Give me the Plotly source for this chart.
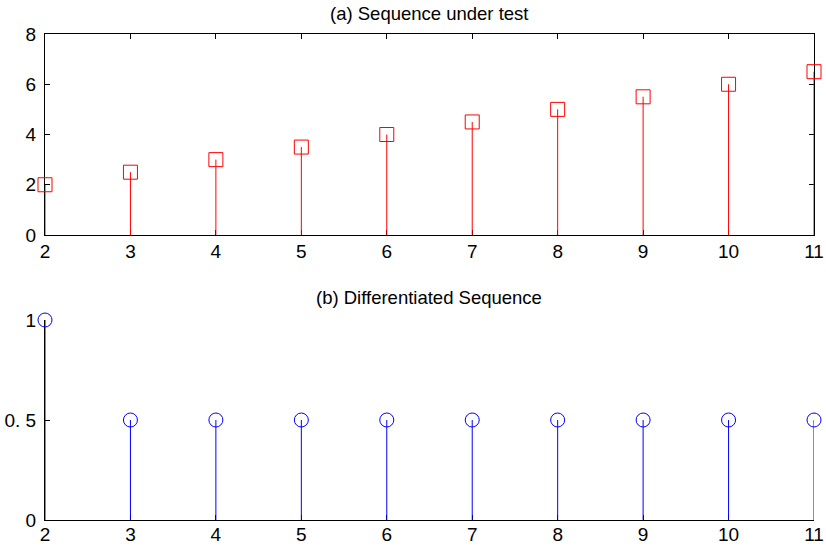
import plotly.graph_objects as go
from plotly.subplots import make_subplots

n_values = [2, 3, 4, 5, 6, 7, 8, 9, 10, 11]
seq_values = [2, 2.5, 3, 3.5, 4, 4.5, 5, 5.5, 6, 6.5]
diff_values = [1, 0.5, 0.5, 0.5, 0.5, 0.5, 0.5, 0.5, 0.5, 0.5]
top_yticks = [0, 2, 4, 6, 8]
bot_yticks = [0, 0.5, 1]
bot_yticktext = ["0", "0. 5", "1"]


def stems(xs, ys):
    sx, sy = [], []
    for x, y in zip(xs, ys):
        sx += [x, x, None]
        sy += [0, y, None]
    return sx, sy


fig = make_subplots(rows=2, cols=1)

sx, sy = stems(n_values, seq_values)
fig.add_trace(go.Scatter(x=sx, y=sy, mode="lines", line=dict(color="#ff0000", width=1),
                         hoverinfo="skip", cliponaxis=False), row=1, col=1)
fig.add_trace(go.Scatter(x=n_values, y=seq_values, mode="markers",
                         marker=dict(symbol="square-open", size=14, color="#ff0000",
                                     line=dict(width=1, color="#ff0000")),
                         cliponaxis=False), row=1, col=1)

sx, sy = stems(n_values, diff_values)
fig.add_trace(go.Scatter(x=sx, y=sy, mode="lines", line=dict(color="#0000ff", width=1),
                         hoverinfo="skip", cliponaxis=False), row=2, col=1)
fig.add_trace(go.Scatter(x=n_values, y=diff_values, mode="markers",
                         marker=dict(symbol="circle-open", size=14, color="#0000ff",
                                     line=dict(width=1, color="#0000ff")),
                         cliponaxis=False), row=2, col=1)

font = dict(family="Liberation Sans, Arial, sans-serif", size=19, color="#000000")

axis_common = dict(showgrid=False, zeroline=False, showline=True, linecolor="#000000",
                   linewidth=1, ticks="inside", ticklen=5, tickcolor="#000000",
                   tickfont=font, automargin=False, layer="below traces")

fig.update_xaxes(range=[2, 11], tickvals=n_values, domain=[0, 1], **axis_common)
fig.update_yaxes(ticklabelstandoff=4, **axis_common)
fig.update_xaxes(mirror="ticks", ticklabelstandoff=-1, row=1, col=1)
fig.update_xaxes(ticklabelstandoff=-3, row=2, col=1)
fig.update_yaxes(range=[0, 8], tickvals=top_yticks, mirror="ticks", domain=[0.5864, 1],
                 row=1, col=1)
fig.update_yaxes(range=[0, 1], tickvals=bot_yticks, ticktext=bot_yticktext,
                 domain=[0, 0.4115], row=2, col=1)

plot_h = 546 - 34 - 26
plot_w = 826 - 45 - 12
title_font = dict(family="Liberation Sans, Arial, sans-serif", size=18.5, color="#000000")

fig.update_layout(
    width=826, height=546,
    margin=dict(l=45, r=12, t=34, b=26),
    paper_bgcolor="#ffffff", plot_bgcolor="#ffffff",
    showlegend=False,
    font=font,
    annotations=[
        dict(text="(a) Sequence under test", x=(429 - 45) / plot_w, y=(520 - 13) / plot_h,
             xref="paper", yref="paper", xanchor="center", yanchor="middle",
             showarrow=False, font=title_font),
        dict(text="(b) Differentiated Sequence", x=(429 - 45) / plot_w, y=(520 - 297) / plot_h,
             xref="paper", yref="paper", xanchor="center", yanchor="middle",
             showarrow=False, font=title_font),
    ],
)

fig.write_html("out.html", config={"displayModeBar": False},
               post_script="document.body.style.margin='0px';document.body.style.overflow='hidden';")
